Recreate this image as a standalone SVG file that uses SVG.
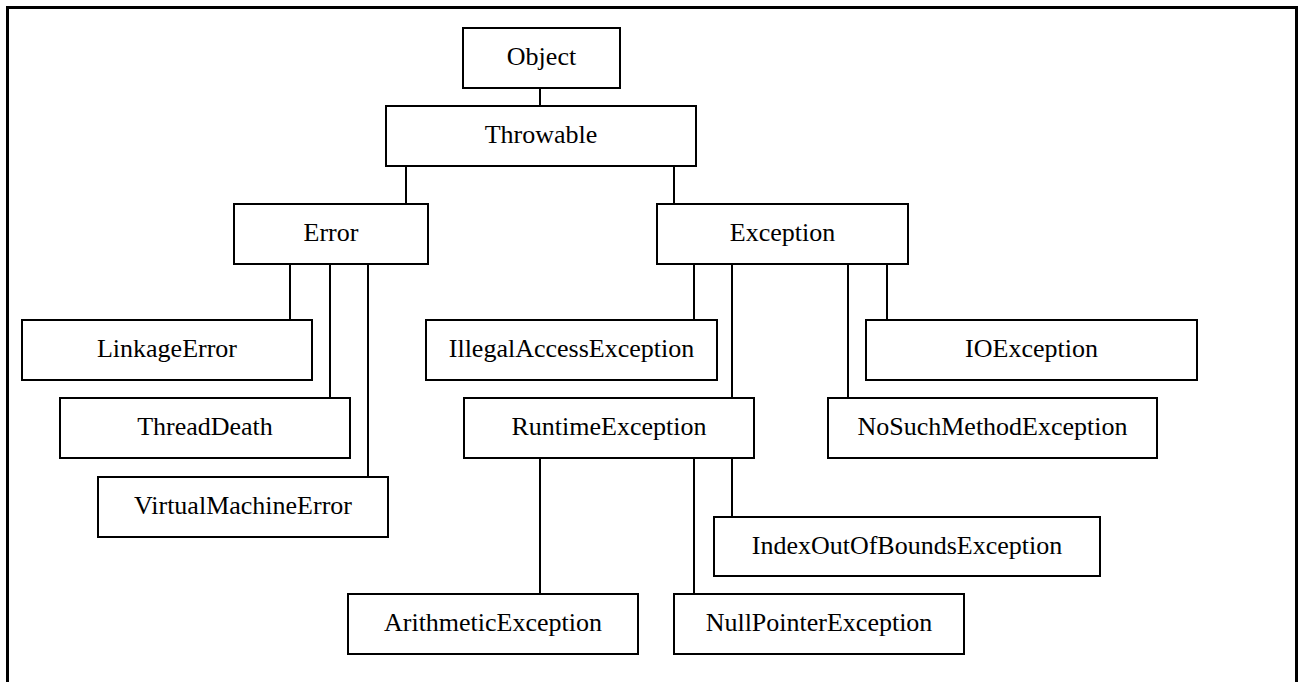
<svg xmlns="http://www.w3.org/2000/svg" width="1303" height="682" viewBox="0 0 1303 682">
  <style>
    .box { fill: #ffffff; stroke: #000000; stroke-width: 2; }
    .lbl { font-family: "Liberation Serif", "Times New Roman", serif; font-size: 26px; fill: #000000; text-anchor: middle; }
    .link { stroke: #000000; stroke-width: 2; fill: none; }
    .frame { stroke: #000000; stroke-width: 3; fill: none; }
  </style>
  <rect width="1303" height="682" fill="#ffffff"/>
  <!-- outer frame, open at the bottom -->
  <path class="frame" d="M7.5,682 V7.5 H1296.5 V682"/>

  <!-- connectors -->
  <g id="connectors">
    <line class="link" x1="540" y1="88" x2="540" y2="106"/>
    <line class="link" x1="406" y1="166" x2="406" y2="204"/>
    <line class="link" x1="674" y1="166" x2="674" y2="204"/>
    <line class="link" x1="290" y1="264" x2="290" y2="320"/>
    <line class="link" x1="330" y1="264" x2="330" y2="398"/>
    <line class="link" x1="368" y1="264" x2="368" y2="477"/>
    <line class="link" x1="694" y1="264" x2="694" y2="320"/>
    <line class="link" x1="732" y1="264" x2="732" y2="398"/>
    <line class="link" x1="848" y1="264" x2="848" y2="398"/>
    <line class="link" x1="887" y1="264" x2="887" y2="320"/>
    <line class="link" x1="540" y1="458" x2="540" y2="594"/>
    <line class="link" x1="694" y1="458" x2="694" y2="594"/>
    <line class="link" x1="732" y1="458" x2="732" y2="517"/>
  </g>

  <!-- class nodes -->
  <g id="object"><rect class="box" x="463" y="28" width="157" height="60"/><text class="lbl" x="541.5" y="65">Object</text></g>
  <g id="throwable"><rect class="box" x="386" y="106" width="310" height="60"/><text class="lbl" x="541" y="143">Throwable</text></g>
  <g id="error"><rect class="box" x="234" y="204" width="194" height="60"/><text class="lbl" x="331" y="241">Error</text></g>
  <g id="exception"><rect class="box" x="657" y="204" width="251" height="60"/><text class="lbl" x="782.5" y="241">Exception</text></g>
  <g id="linkage-error"><rect class="box" x="22" y="320" width="290" height="60"/><text class="lbl" x="167" y="357">LinkageError</text></g>
  <g id="thread-death"><rect class="box" x="60" y="398" width="290" height="60"/><text class="lbl" x="205" y="435">ThreadDeath</text></g>
  <g id="virtual-machine-error"><rect class="box" x="98" y="477" width="290" height="60"/><text class="lbl" x="243" y="514">VirtualMachineError</text></g>
  <g id="illegal-access-exception"><rect class="box" x="426" y="320" width="291" height="60"/><text class="lbl" x="571.5" y="357">IllegalAccessException</text></g>
  <g id="runtime-exception"><rect class="box" x="464" y="398" width="290" height="60"/><text class="lbl" x="609" y="435">RuntimeException</text></g>
  <g id="io-exception"><rect class="box" x="866" y="320" width="331" height="60"/><text class="lbl" x="1031.5" y="357">IOException</text></g>
  <g id="no-such-method-exception"><rect class="box" x="828" y="398" width="329" height="60"/><text class="lbl" x="992.5" y="435">NoSuchMethodException</text></g>
  <g id="index-out-of-bounds-exception"><rect class="box" x="714" y="517" width="386" height="59"/><text class="lbl" x="907" y="554">IndexOutOfBoundsException</text></g>
  <g id="arithmetic-exception"><rect class="box" x="348" y="594" width="290" height="60"/><text class="lbl" x="493" y="631">ArithmeticException</text></g>
  <g id="null-pointer-exception"><rect class="box" x="674" y="594" width="290" height="60"/><text class="lbl" x="819" y="631">NullPointerException</text></g>
</svg>
